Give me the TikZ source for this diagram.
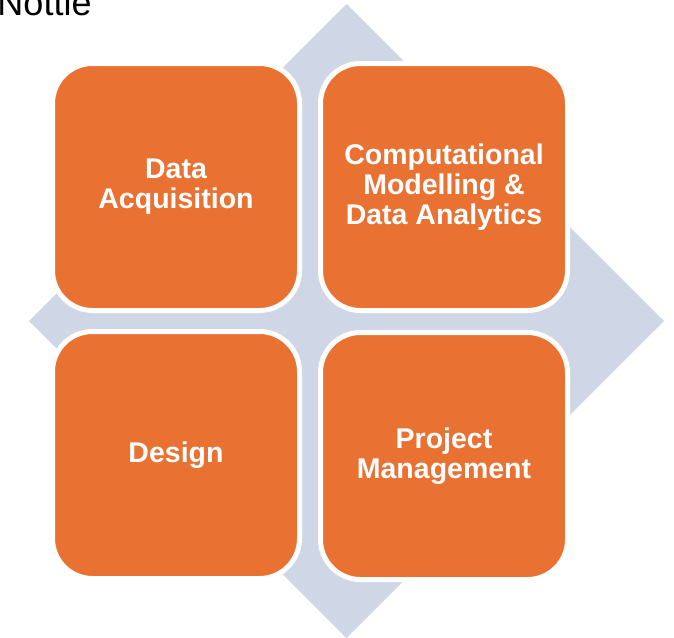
\documentclass[tikz,border=0pt]{standalone}
\usepackage{fontspec}
\setmainfont{Liberation Sans}
\definecolor{diamblue}{HTML}{CFD7E7}
\definecolor{boxorange}{HTML}{E97132}
\tikzset{
  x=1pt, y=-1pt,
  quadbox/.style={rectangle, fill=boxorange, draw=white, line width=5pt,
    minimum width=247pt, minimum height=247pt, rounded corners=40pt,
    text=white, align=center, inner sep=0pt,
    font=\bfseries\fontsize{28.5}{30}\selectfont},
  titletext/.style={anchor=base west, inner sep=0pt, font=\fontsize{36}{40}\selectfont}
}
\begin{document}
\begin{tikzpicture}
\useasboundingbox (0,0) rectangle (674,637);
\clip (0,0) rectangle (674,637);
\node[titletext] (title) at (-2.7,15) {Nottle};
\fill[diamblue] (29,321) -- (346.5,4) -- (664,321) -- (346.5,638) -- cycle;
\node[quadbox] (tl) at (176,187) {Data\\Acquisition};
\node[quadbox] (tr) at (444,187) {Computational\\Modelling \&\\Data Analytics};
\node[quadbox] (bl) at (176,455) {Design};
\node[quadbox] (br) at (444,456) {Project\\Management};
\end{tikzpicture}
\end{document}
